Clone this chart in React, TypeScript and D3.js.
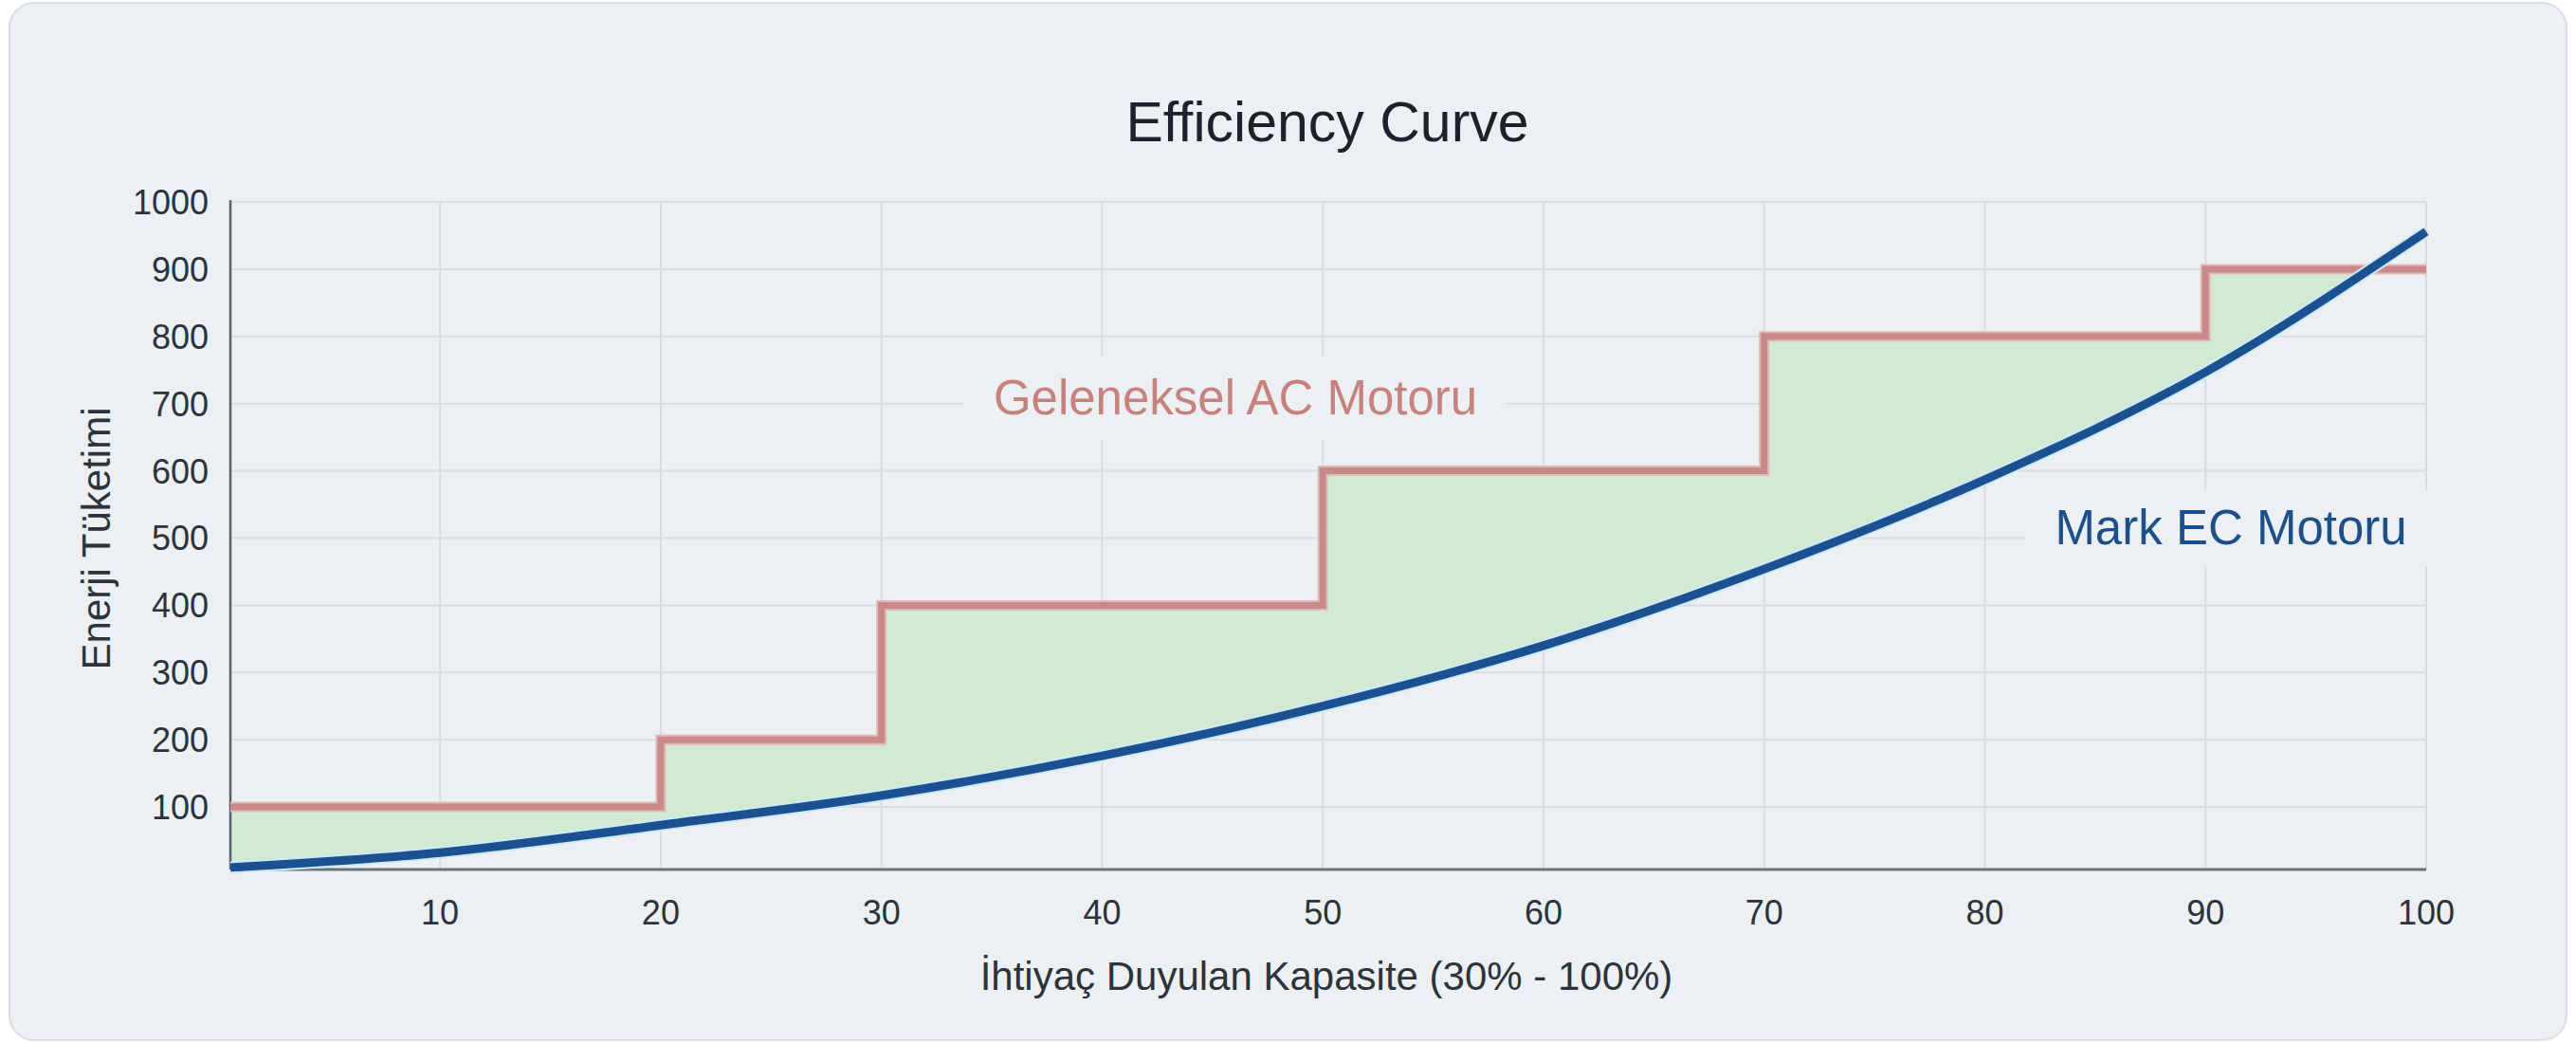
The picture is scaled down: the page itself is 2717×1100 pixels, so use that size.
import React, { useRef, useEffect } from 'react';
import * as d3 from 'd3';

// Geleneksel AC motor: step values (capacity % -> energy)
const acCapacity = [0.5, 20, 30, 50, 70, 90, 100];
const acEnergy = [100, 200, 400, 600, 800, 900, 900];

// Mark EC motor: smooth curve
const ecCapacity = [0.5, 10, 20, 30, 40, 50, 60, 70, 80, 90, 100];
const ecEnergy = [10, 32, 73, 117, 176, 250, 340, 454, 587, 747, 956];

const xTicks = [10, 20, 30, 40, 50, 60, 70, 80, 90, 100];
const yTicks = [100, 200, 300, 400, 500, 600, 700, 800, 900, 1000];

const FONT = "'Liberation Sans', Arial, Helvetica, sans-serif";
const CARD = "#edf0f2";

export default function App() {
  const ref = useRef<SVGSVGElement>(null);

  useEffect(() => {
    const width = 2717;
    const height = 1100;
    const svg = d3.select(ref.current);
    svg.selectAll("*").remove();

    // card
    svg.append("rect")
      .attr("x", 10).attr("y", 3)
      .attr("width", width - 20).attr("height", height - 6)
      .attr("rx", 26).attr("ry", 26)
      .attr("fill", CARD)
      .attr("stroke", "#d9dee2")
      .attr("stroke-width", 2);

    const x = d3.scaleLinear().domain([0.5, 100]).range([243, 2559]);
    const y = d3.scaleLinear().domain([7, 1000]).range([917, 213]);

    const g = svg.append("g");

    // grid
    g.selectAll("line.hgrid")
      .data(yTicks)
      .enter()
      .append("line")
      .attr("x1", x(0.5)).attr("x2", x(100))
      .attr("y1", d => y(d)).attr("y2", d => y(d))
      .attr("stroke", "#d8dde2")
      .attr("stroke-width", 2);

    g.selectAll("line.vgrid")
      .data(xTicks)
      .enter()
      .append("line")
      .attr("x1", d => x(d)).attr("x2", d => x(d))
      .attr("y1", y(1000)).attr("y2", y(7))
      .attr("stroke", "#d8dde2")
      .attr("stroke-width", 2);

    // label backgrounds cut the grid
    g.append("rect")
      .attr("x", 1017).attr("y", 375).attr("width", 572).attr("height", 88)
      .attr("fill", CARD);
    g.append("rect")
      .attr("x", 2137).attr("y", 517).attr("width", 445).attr("height", 80)
      .attr("fill", CARD);

    // clip: region above the EC curve
    const ecData = ecCapacity.map((c, i) => ({ c, v: ecEnergy[i] }));
    const acData = acCapacity.map((c, i) => ({ c, v: acEnergy[i] }));

    const aboveCurve = d3.area<{ c: number; v: number }>()
      .x(d => x(d.c))
      .y0(0)
      .y1(d => y(d.v))
      .curve(d3.curveMonotoneX);

    svg.append("defs")
      .append("clipPath")
      .attr("id", "above-ec")
      .append("path")
      .attr("d", aboveCurve(ecData));

    // savings area
    const underStep = d3.area<{ c: number; v: number }>()
      .x(d => x(d.c))
      .y0(y(7))
      .y1(d => y(d.v))
      .curve(d3.curveStepAfter);

    g.append("path")
      .attr("d", underStep(acData))
      .attr("fill", "#d2ead3")
      .attr("clip-path", "url(#above-ec)");

    // axes
    g.append("line")
      .attr("x1", x(0.5)).attr("x2", x(0.5))
      .attr("y1", y(1000) - 2).attr("y2", y(7))
      .attr("stroke", "#59616b").attr("stroke-width", 2.5);
    g.append("line")
      .attr("x1", x(0.5)).attr("x2", x(100))
      .attr("y1", y(7)).attr("y2", y(7))
      .attr("stroke", "#6b727a").attr("stroke-width", 3);

    // AC step line
    const stepLine = d3.line<{ c: number; v: number }>()
      .x(d => x(d.c))
      .y(d => y(d.v))
      .curve(d3.curveStepAfter);

    g.append("path")
      .attr("d", stepLine(acData))
      .attr("fill", "none")
      .attr("stroke", "#e3b9b5")
      .attr("stroke-width", 11);
    g.append("path")
      .attr("d", stepLine(acData))
      .attr("fill", "none")
      .attr("stroke", "#c7898a")
      .attr("stroke-width", 7);

    // EC curve
    const ecLine = d3.line<{ c: number; v: number }>()
      .x(d => x(d.c))
      .y(d => y(d.v))
      .curve(d3.curveMonotoneX);

    g.append("path")
      .attr("d", ecLine(ecData))
      .attr("fill", "none")
      .attr("stroke", "#cfeaf7")
      .attr("stroke-width", 13)
      .attr("stroke-linecap", "butt");
    g.append("path")
      .attr("d", ecLine(ecData))
      .attr("fill", "none")
      .attr("stroke", "#1b5190")
      .attr("stroke-width", 9)
      .attr("stroke-linecap", "butt");

    // tick labels
    g.selectAll("text.ytick")
      .data(yTicks)
      .enter()
      .append("text")
      .attr("x", 220)
      .attr("y", d => y(d))
      .attr("dy", "0.36em")
      .attr("text-anchor", "end")
      .attr("font-family", FONT)
      .attr("font-size", 36)
      .attr("fill", "#2c333b")
      .text(d => d);

    g.selectAll("text.xtick")
      .data(xTicks)
      .enter()
      .append("text")
      .attr("x", d => x(d))
      .attr("y", 975)
      .attr("text-anchor", "middle")
      .attr("font-family", FONT)
      .attr("font-size", 36)
      .attr("fill", "#2c333b")
      .text(d => d);

    // titles
    svg.append("text")
      .attr("x", 1400).attr("y", 149)
      .attr("text-anchor", "middle")
      .attr("font-family", FONT)
      .attr("font-size", 59)
      .attr("fill", "#1b222b")
      .text("Efficiency Curve");

    svg.append("text")
      .attr("x", 1399).attr("y", 1044)
      .attr("text-anchor", "middle")
      .attr("font-family", FONT)
      .attr("font-size", 42)
      .attr("fill", "#2c333b")
      .text("İhtiyaç Duyulan Kapasite (30% - 100%)");

    svg.append("text")
      .attr("transform", "translate(116,568) rotate(-90)")
      .attr("text-anchor", "middle")
      .attr("font-family", FONT)
      .attr("font-size", 42)
      .attr("fill", "#2c333b")
      .text("Enerji Tüketimi");

    // series labels
    svg.append("text")
      .attr("x", 1303).attr("y", 437)
      .attr("text-anchor", "middle")
      .attr("font-family", FONT)
      .attr("font-size", 51)
      .attr("fill", "#c7827f")
      .text("Geleneksel AC Motoru");

    svg.append("text")
      .attr("x", 2353).attr("y", 574)
      .attr("text-anchor", "middle")
      .attr("font-family", FONT)
      .attr("font-size", 51)
      .attr("fill", "#1d4f8a")
      .text("Mark EC Motoru");
  }, []);

  return (
    <svg
      ref={ref}
      width={2717}
      height={1100}
      style={{ position: 'absolute', left: 0, top: 0, background: '#ffffff' }}
    />
  );
}
